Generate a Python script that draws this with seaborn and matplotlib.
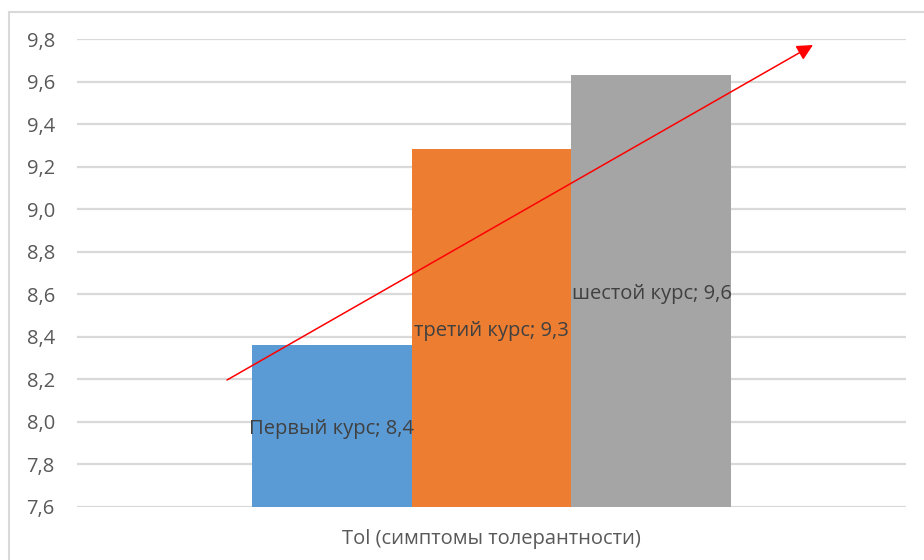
import matplotlib
matplotlib.use("Agg")
import matplotlib.pyplot as plt
from matplotlib.patches import FancyArrowPatch
from matplotlib.lines import Line2D
from matplotlib.ticker import FixedLocator, FuncFormatter
from matplotlib.transforms import ScaledTranslation
import seaborn as sns
import pandas as pd

# Chart data
group_label = "Tol (симптомы толерантности)"
courses = ["Первый курс", "третий курс", "шестой курс"]
scores = [8.36, 9.285, 9.63]
bar_colors = ["#5B9BD5", "#ED7D31", "#A5A5A5"]
y_ticks = [7.6, 7.8, 8.0, 8.2, 8.4, 8.6, 8.8, 9.0, 9.2, 9.4, 9.6, 9.8]

sns.set_theme(style="white")
plt.rcParams["font.family"] = ["Open Sans", "DejaVu Sans"]

text_color = "#595959"
grid_color = "#D9D9D9"

fig = plt.figure(figsize=(9.24, 5.6), dpi=100)
ax = fig.add_axes([77 / 924, 53 / 560, (906 - 77) / 924, (507 - 39) / 560])

df = pd.DataFrame({"group": [group_label] * len(courses),
                   "course": courses,
                   "score": scores})

sns.barplot(data=df, x="group", y="score", hue="course",
            palette=bar_colors, saturation=1, width=0.579,
            linewidth=0, errorbar=None, ax=ax, zorder=2)

ymin, ymax = y_ticks[0], y_ticks[-1]
ax.set_ylim(ymin, ymax)
ax.set_xlim(-0.5, 0.5)
ax.yaxis.set_major_locator(FixedLocator(y_ticks))
ax.yaxis.set_major_formatter(FuncFormatter(lambda v, _: f"{v:.1f}".replace(".", ",")))
ax.grid(axis="y", color=grid_color, linewidth=1.6, zorder=0)
ax.set_axisbelow(True)
for s in ax.spines.values():
    s.set_visible(False)
ax.tick_params(axis="y", length=0, pad=16, labelsize=14.5, labelcolor=text_color)
ax.tick_params(axis="x", length=0, pad=16, labelsize=14.5, labelcolor=text_color)
ax.set_xlabel("")
ax.set_ylabel("")
if ax.get_legend() is not None:
    ax.get_legend().remove()

# Data labels centred inside each bar's visible part
label_shift = ax.transData + ScaledTranslation(0, -3 / 100, fig.dpi_scale_trans)
for bar, name, val in zip(ax.patches, courses, scores):
    cx = bar.get_x() + bar.get_width() / 2
    cy = (ymin + val) / 2
    ax.text(cx, cy, f"{name}; {val:.1f}".replace(".", ","),
            ha="center", va="center", fontsize=14.5, color="#404040",
            zorder=3, transform=label_shift)

# Trend arrow
arrow = FancyArrowPatch((227 / 924, 180 / 560), (813 / 924, 515 / 560),
                        transform=fig.transFigure, arrowstyle="-|>",
                        mutation_scale=24, color="#FF0000", linewidth=1.1,
                        shrinkA=0, shrinkB=0, zorder=5)
fig.add_artist(arrow)

# Chart-area frame (top and left edges)
fig.add_artist(Line2D([9 / 924, 1.0], [1 - 12 / 560, 1 - 12 / 560],
                      transform=fig.transFigure, color=grid_color, linewidth=1.5))
fig.add_artist(Line2D([9 / 924, 9 / 924], [0.0, 1 - 12 / 560],
                      transform=fig.transFigure, color=grid_color, linewidth=1.5))

fig.savefig("out.png", dpi=100, facecolor="white")
